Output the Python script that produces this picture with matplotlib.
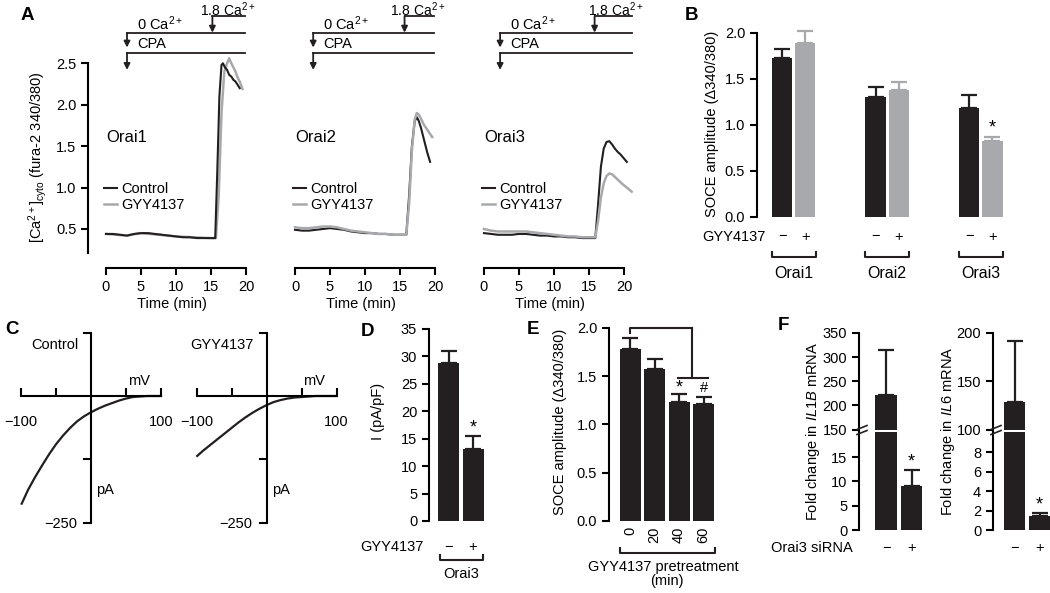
import numpy as np
import matplotlib
matplotlib.use('Agg')
import matplotlib.pyplot as plt
from matplotlib.transforms import Affine2D, blended_transform_factory as blend
from matplotlib.lines import Line2D

plt.rcParams['font.family'] = ['Liberation Sans', 'DejaVu Sans']
plt.rcParams['font.size'] = 10.5
plt.rcParams['mathtext.fontset'] = 'custom'
plt.rcParams['mathtext.rm'] = 'Liberation Sans'
plt.rcParams['mathtext.it'] = 'Liberation Sans:italic'
plt.rcParams['axes.linewidth'] = 1.5
plt.rcParams['xtick.major.width'] = 1.5
plt.rcParams['ytick.major.width'] = 1.5
plt.rcParams['xtick.major.size'] = 5
plt.rcParams['ytick.major.size'] = 5

BLACK = '#231f20'
GRAY = '#a7a9ac'

# ---- A: fura-2 traces (time in min, ratio)
o1_t_ctrl = [0, 1, 2, 3, 4, 5, 6, 7, 8, 9, 10, 11, 12, 13, 14, 15, 15.6, 15.9, 16.2, 16.5, 16.7, 17.0, 17.3, 17.6, 17.9, 18.2, 18.5, 18.8, 19.1]
o1_ctrl = [0.44, 0.44, 0.43, 0.42, 0.44, 0.45, 0.45, 0.44, 0.43, 0.42, 0.41, 0.40, 0.40, 0.39, 0.39, 0.39, 0.39, 1.2, 2.1, 2.48, 2.50, 2.45, 2.42, 2.36, 2.34, 2.30, 2.28, 2.24, 2.20]
o1_t_gyy = [0, 3, 5, 10, 15, 15.7, 16.1, 16.5, 16.9, 17.3, 17.6, 17.9, 18.2, 18.5, 18.8, 19.1, 19.5]
o1_gyy = [0.44, 0.42, 0.45, 0.41, 0.39, 0.39, 0.9, 1.9, 2.40, 2.50, 2.56, 2.50, 2.45, 2.40, 2.33, 2.28, 2.19]

o2_t_ctrl = [0, 1, 2, 3, 4, 5, 6, 7, 8, 9, 10, 11, 12, 13, 14, 15, 15.9, 16.3, 16.7, 17.1, 17.4, 17.7, 18.0, 18.3, 18.6, 18.9, 19.3]
o2_ctrl = [0.49, 0.48, 0.48, 0.49, 0.50, 0.51, 0.50, 0.49, 0.47, 0.46, 0.45, 0.45, 0.44, 0.44, 0.43, 0.43, 0.43, 0.9, 1.5, 1.8, 1.85, 1.80, 1.72, 1.62, 1.52, 1.42, 1.31]
o2_t_gyy = [0, 1, 2, 3, 4, 5, 6, 7, 8, 9, 10, 11, 12, 13, 14, 15, 15.9, 16.3, 16.7, 17.1, 17.4, 17.7, 18.0, 18.4, 18.8, 19.2, 19.6]
o2_gyy = [0.52, 0.51, 0.51, 0.52, 0.53, 0.53, 0.52, 0.50, 0.48, 0.47, 0.46, 0.45, 0.44, 0.44, 0.43, 0.43, 0.43, 0.8, 1.45, 1.82, 1.90, 1.88, 1.83, 1.76, 1.71, 1.66, 1.61]

o3_t_ctrl = [0, 1, 2, 3, 4, 5, 6, 7, 8, 9, 10, 11, 12, 13, 14, 15, 15.9, 16.3, 16.7, 17.1, 17.5, 17.9, 18.3, 18.7, 19.1, 19.5, 19.9, 20.4]
o3_ctrl = [0.45, 0.44, 0.43, 0.43, 0.43, 0.44, 0.44, 0.43, 0.42, 0.42, 0.41, 0.41, 0.40, 0.40, 0.39, 0.39, 0.39, 0.8, 1.25, 1.47, 1.55, 1.56, 1.52, 1.47, 1.43, 1.40, 1.36, 1.31]
o3_t_gyy = [0, 1, 2, 3, 4, 5, 6, 7, 8, 9, 10, 11, 12, 13, 14, 15, 15.9, 16.3, 16.7, 17.1, 17.5, 17.9, 18.3, 18.8, 19.3, 19.8, 20.4, 21.1]
o3_gyy = [0.50, 0.48, 0.47, 0.47, 0.47, 0.47, 0.47, 0.46, 0.45, 0.44, 0.43, 0.42, 0.41, 0.41, 0.40, 0.40, 0.40, 0.6, 0.88, 1.05, 1.14, 1.17, 1.16, 1.12, 1.08, 1.04, 1.00, 0.95]

# protocol: CPA / 0 Ca start, 1.8 Ca switch, end of bar
protocols = [(3.0, 15.2, 19.8), (2.6, 15.65, 19.9), (2.3, 15.8, 21.2)]
orai_names = ['Orai1', 'Orai2', 'Orai3']

# ---- B
b_ctrl = [1.73, 1.30, 1.19]
b_ctrl_err = [0.10, 0.11, 0.14]
b_gyy = [1.89, 1.38, 0.83]
b_gyy_err = [0.13, 0.09, 0.04]

# ---- C: I-V curves (mV, pA)
iv_v = [-99, -90, -80, -70, -60, -50, -40, -30, -20, -10, 0, 10, 20, 30, 40, 50, 60, 70, 80, 90, 100]
iv_ctrl = [-212, -185, -160, -137, -115, -95, -78, -63, -50, -40, -32, -25, -19, -14, -9, -5, -2, -1, 0, 0, 0]
iv_gyy = [-118, -107, -96, -85, -74, -63, -52, -42, -33, -25, -18, -12, -8, -5, -3, -2, -1, 0, 0, 0, 0]

# ---- D
d_vals = [28.7, 13.1]
d_err = [2.3, 2.3]

# ---- E
e_times = ['0', '20', '40', '60']
e_vals = [1.78, 1.57, 1.23, 1.21]
e_err = [0.11, 0.11, 0.09, 0.07]

# ---- F
il1b = [222, 9.0]
il1b_err = [93, 3.3]
il6 = [128, 1.4]
il6_err = [64, 0.35]

W, H = 1050, 593
fig = plt.figure(figsize=(W / 100, H / 100), dpi=100)
pxT = Affine2D().scale(1 / W, -1 / H).translate(0, 1) + fig.transFigure


def box(l, t, r, b):
    return fig.add_axes([l / W, 1 - b / H, (r - l) / W, (b - t) / H])


def ftext(x, y, s, **kw):
    kw.setdefault('ha', 'center')
    kw.setdefault('va', 'center')
    fig.text(x / W, 1 - y / H, s, **kw)


def upbars(ax, x, vals, err, color, width):
    ax.bar(x, vals, width, color=color, zorder=2)
    ax.errorbar(x, vals, yerr=[np.zeros(len(vals)), err], fmt='none', ecolor=color,
                elinewidth=1.6, capsize=5.5, capthick=1.6, zorder=1)


def bracket(ax, x0, x1, ypx, h=5):
    tr = blend(ax.transData, pxT)
    ax.plot([x0, x0, x1, x1], [ypx - h, ypx, ypx, ypx - h], color=BLACK, lw=1.5,
            transform=tr, clip_on=False)


# ================= A =================
traces = [(o1_t_ctrl, o1_ctrl, o1_t_gyy, o1_gyy),
          (o2_t_ctrl, o2_ctrl, o2_t_gyy, o2_gyy),
          (o3_t_ctrl, o3_ctrl, o3_t_gyy, o3_gyy)]
for i, x0 in enumerate([106, 295, 484]):
    ax = box(x0 - 2.55 * 7, 55, x0 + 21.3 * 7, 253)
    tc, vc, tg, vg = traces[i]
    if i == 0:
        ax.plot(tg, vg, color=GRAY, lw=1.8, label='GYY4137')
        ax.plot(tc, vc, color=BLACK, lw=1.5, label='Control')
    else:
        ax.plot(tc, vc, color=BLACK, lw=1.5, label='Control')
        ax.plot(tg, vg, color=GRAY, lw=1.8, label='GYY4137')
    ax.set_xlim(-2.55, 21.3)
    ax.set_ylim(0.21, 2.6)
    for s in ['top', 'right']:
        ax.spines[s].set_visible(False)
    ax.spines['bottom'].set_position(('outward', 11))
    ax.spines['bottom'].set_bounds(0, 20)
    ax.set_xticks([0, 5, 10, 15, 20])
    ax.set_xlabel('Time (min)', labelpad=2)
    if i == 0:
        ax.spines['left'].set_bounds(0.21, 2.5)
        ax.set_yticks([0.5, 1.0, 1.5, 2.0, 2.5])
        ax.set_yticklabels(['0.5', '1.0', '1.5', '2.0', '2.5'])
    else:
        ax.spines['left'].set_visible(False)
        ax.set_yticks([])
    h, l = ax.get_legend_handles_labels()
    order = [l.index('Control'), l.index('GYY4137')]
    ax.legend([h[k] for k in order], [l[k] for k in order], loc='upper left',
              bbox_to_anchor=(0.095, 0.36), frameon=False, borderpad=0, borderaxespad=0,
              handlelength=0.9, handletextpad=0.25, labelspacing=0.15, fontsize=10.5)
    ax.text(0.1, 1.60, orai_names[i], fontsize=12, ha='left', va='center')

    t_cpa, t_ca, t_end = protocols[i]
    kw = dict(color=BLACK, lw=1.3, clip_on=False)
    ar = dict(arrowstyle='-|>', color=BLACK, lw=1.3, mutation_scale=9, shrinkA=0, shrinkB=0)
    ax.plot([t_ca, t_end], [3.07, 3.07], **kw)
    ax.annotate('', xy=(t_ca, 2.87), xytext=(t_ca, 3.07), arrowprops=ar, annotation_clip=False)
    ax.plot([t_cpa, t_end], [2.866, 2.866], **kw)
    ax.annotate('', xy=(t_cpa, 2.69), xytext=(t_cpa, 2.866), arrowprops=ar, annotation_clip=False)
    ax.plot([t_cpa, t_end], [2.624, 2.624], **kw)
    ax.annotate('', xy=(t_cpa, 2.42), xytext=(t_cpa, 2.624), arrowprops=ar, annotation_clip=False)
    ax.text(t_cpa + 1.4, 2.975, '0 Ca$^{2+}$', ha='left', va='center', fontsize=10.5)
    ax.text(t_cpa + 1.5, 2.735, 'CPA', ha='left', va='center', fontsize=10.5)
    ax.text(t_end + 1.6, 3.075, '1.8 Ca$^{2+}$', ha='right', va='baseline', fontsize=10)

ftext(38, 157, '[Ca$^{2+}$]$_{\\mathrm{cyto}}$ (fura-2 340/380)', rotation=90)

# ================= B =================
ax = box(757, 28.4, 1010, 217)
xc = np.array([0, 4, 8])
upbars(ax, xc, b_ctrl, b_ctrl_err, BLACK, 0.86)
upbars(ax, xc + 1, b_gyy, b_gyy_err, GRAY, 0.86)
ax.set_xlim(-1.07, 9.75)
ax.set_ylim(0, 2.05)
for s in ['top', 'right', 'bottom']:
    ax.spines[s].set_visible(False)
ax.spines['left'].set_bounds(0, 2.0)
ax.set_yticks([0, 0.5, 1.0, 1.5, 2.0])
ax.set_yticklabels(['0.0', '0.5', '1.0', '1.5', '2.0'])
ax.set_xticks(np.concatenate([xc, xc + 1]))
ax.set_xticklabels(['\u2212'] * 3 + ['+'] * 3)
ax.tick_params(axis='x', length=0, pad=9)
ax.text(-0.72, 237, 'GYY4137', ha='right', va='center', transform=blend(ax.transData, pxT))
ax.text(9, b_gyy[2] + b_gyy_err[2] + 0.1, '*', ha='center', va='center', fontsize=13)
for k, g in enumerate(xc):
    bracket(ax, g - 0.43, g + 1.45, 257)
    ax.text(g + 0.5, 274, orai_names[k], ha='center', va='center', fontsize=11.5,
            transform=blend(ax.transData, pxT))
ftext(712, 124, 'SOCE amplitude (\u0394340/380)', rotation=90)

# ================= C =================
for (l, r, curve, title) in [(17.5, 164.5, iv_ctrl, 'Control'), (193, 340, iv_gyy, 'GYY4137')]:
    ax = box(l, 330, r, 525.5)
    ax.plot(iv_v, curve, color=BLACK, lw=1.6)
    ax.set_xlim(-105, 105)
    ax.set_ylim(-255, 130)
    for s in ['top', 'right']:
        ax.spines[s].set_visible(False)
    ax.spines['left'].set_position(('data', 0))
    ax.spines['bottom'].set_position(('data', 0))
    ax.spines['left'].set_bounds(-250, 125)
    ax.spines['bottom'].set_bounds(-100, 100)
    ax.set_xticks([-100, -50, 50, 100])
    ax.set_xticklabels(['\u2212100', '', '', '100'])
    ax.tick_params(axis='x', direction='in', length=6, pad=14)
    ax.set_yticks([-250, -125, 125])
    ax.set_yticklabels(['\u2212250', '', ''])
    ax.tick_params(axis='y', direction='out', length=6, pad=4)
    ax.patch.set_alpha(0)
    ax.text(-18, 100, title, ha='right', va='center')
    ax.text(68, 30, 'mV', ha='center', va='center')
    ax.text(20, -185, 'pA', ha='center', va='center')

# ================= D =================
ax = box(429, 326, 487, 521)
upbars(ax, [0, 1], d_vals, d_err, BLACK, 0.86)
ax.set_xlim(-0.8, 1.57)
ax.set_ylim(0, 35.5)
for s in ['top', 'right', 'bottom']:
    ax.spines[s].set_visible(False)
ax.spines['left'].set_bounds(0, 35)
ax.set_yticks(range(0, 36, 5))
ax.set_xticks([0, 1])
ax.set_xticklabels(['\u2212', '+'])
ax.tick_params(axis='x', length=0, pad=14)
ax.text(-1.04, 547, 'GYY4137', ha='right', va='center', transform=blend(ax.transData, pxT))
ax.text(1, 17.0, '*', ha='center', va='center', fontsize=13)
bracket(ax, -0.35, 1.4, 560)
ax.text(0.5, 574, 'Orai3', ha='center', va='center', transform=blend(ax.transData, pxT))
ftext(378, 411, 'I (pA/pF)', rotation=90)

# ================= E =================
ax = box(609, 323, 720, 521)
ex = np.arange(len(e_vals))
upbars(ax, ex, e_vals, e_err, BLACK, 0.86)
ax.set_xlim(-0.86, 3.67)
ax.set_ylim(0, 2.05)
for s in ['top', 'right', 'bottom']:
    ax.spines[s].set_visible(False)
ax.spines['left'].set_bounds(0, 2.0)
ax.set_yticks([0, 0.5, 1.0, 1.5, 2.0])
ax.set_yticklabels(['0.0', '0.5', '1.0', '1.5', '2.0'])
ax.set_xticks(ex)
ax.set_xticklabels(e_times, rotation=90)
ax.tick_params(axis='x', length=0, pad=4)
sk = dict(color=BLACK, lw=1.5, clip_on=False)
ax.plot([0, 0, 2.51], [1.95, 2.0, 2.0], **sk)
ax.plot([2.51, 2.51], [2.0, 1.48], **sk)
ax.plot([1.94, 3.16], [1.48, 1.48], **sk)
ax.text(2, 1.38, '*', ha='center', va='center', fontsize=13)
ax.text(3, 1.38, '#', ha='center', va='center', fontsize=10.5)
bracket(ax, -0.43, 3.45, 553)
ax.text(1.37, 567, 'GYY4137 pretreatment', ha='center', va='center', transform=blend(ax.transData, pxT))
ax.text(1.5, 581, '(min)', ha='center', va='center', transform=blend(ax.transData, pxT))
ftext(560, 422, 'SOCE amplitude (\u0394340/380)', rotation=90)


# ================= F =================
def broken(l, r, xlim, lo_top, lo_ticks, hi_lim, hi_ticks, vals, err, label, lab_x, xlab):
    lo = box(l, 431.5, r, 530)
    hi = box(l, 333, r, 429.5)
    for a in (lo, hi):
        upbars(a, [0, 1], vals, err, BLACK, 0.84)
        a.set_xlim(*xlim)
        for s in ['top', 'right', 'bottom']:
            a.spines[s].set_visible(False)
    lo.set_ylim(0, lo_top)
    lo.set_yticks(lo_ticks)
    hi.set_ylim(*hi_lim)
    hi.set_yticks(hi_ticks)
    hi.set_xticks([])
    lo.set_xticks([0, 1])
    lo.set_xticklabels(['\u2212', '+'])
    lo.tick_params(axis='x', length=0, pad=8)
    lo.text(1, vals[1] + err[1] + lo_top * 0.08, '*', ha='center', va='center', fontsize=13)
    for dy in (-2.5, 2.5):
        fig.add_artist(Line2D([(l - 2) / W, (l + 8) / W],
                              [1 - (432 + dy) / H, 1 - (428 + dy) / H],
                              color=BLACK, lw=1.2))
    ftext(lab_x, 431, label, rotation=90)
    if xlab:
        lo.text(-1.29, 548, 'Orai3 siRNA', ha='right', va='center',
                transform=blend(lo.transData, pxT))


broken(859, 930, (-1.06, 1.72), 20.3, [0, 5, 10, 15], (150, 350), [150, 200, 250, 300, 350],
       il1b, il1b_err, 'Fold change in $\\mathit{IL1B}$ mRNA', 813, True)
broken(993, 1050, (-0.86, 1.42), 10.15, [0, 2, 4, 6, 8], (100, 200), [100, 150, 200],
       il6, il6_err, 'Fold change in $\\mathit{IL6}$ mRNA', 948, False)

# panel letters
for (x, y, s) in [(27, 15, 'A'), (692, 15, 'B'), (12, 330, 'C'), (367, 332, 'D'),
                  (533, 330, 'E'), (783, 325, 'F')]:
    ftext(x, y, s, fontsize=13.5, fontweight='bold')

fig.savefig('out.png', dpi=100)
